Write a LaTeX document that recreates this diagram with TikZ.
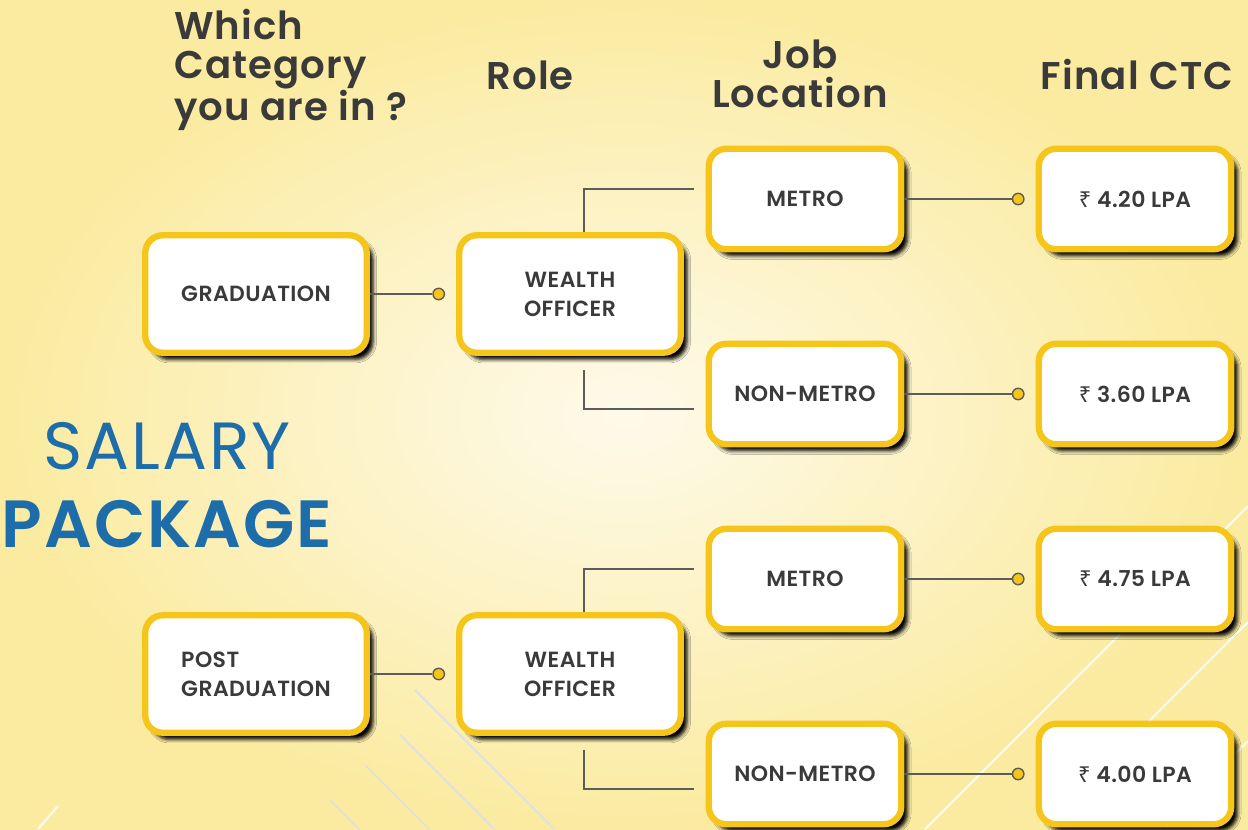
\documentclass[tikz,border=0pt]{standalone}
\usepackage{fontspec}
\setmainfont{Poppins}[BoldFont={Poppins SemiBold}]
\newfontfamily\rupeefont{Noto Sans}
\usepackage{tikz}
\usetikzlibrary{positioning}
\usetikzlibrary{calc}
\usetikzlibrary{shadows,shadows.blur}
\definecolor{boxyellow}{HTML}{F6C519}
\definecolor{textgray}{HTML}{3A3A3A}
\definecolor{linkgray}{HTML}{5C5C5C}
\definecolor{salblue}{HTML}{1D6DAB}
\definecolor{bgyellow}{HTML}{FBEBA0}
\definecolor{bglight}{HTML}{FEFAEA}
\newcommand{\inr}{{\rupeefont\bfseries ₹}}
\tikzstyle{basebox}=[rectangle,rounded corners=10pt,draw=boxyellow,line width=3.6pt,fill=white,text=textgray,
    blur shadow={shadow xshift=3.6pt,shadow yshift=-3.8pt,shadow blur radius=2pt,shadow blur extra rounding=2pt,shadow opacity=100}]
\tikzstyle{catbox}=[basebox,minimum width=4.43cm,minimum height=2.35cm,align=left,font=\bfseries\fontsize{12.5}{16.5}\selectfont\addfontfeatures{LetterSpace=2}]
\tikzstyle{rolebox}=[catbox,align=center]
\tikzstyle{locbox}=[basebox,minimum width=3.85cm,minimum height=2.01cm,align=center,font=\bfseries\fontsize{12.5}{16.5}\selectfont\addfontfeatures{LetterSpace=2}]
\tikzstyle{joint}=[circle,draw=linkgray,fill=boxyellow,line width=0.8pt,minimum size=6.5pt,inner sep=0pt]
\tikzstyle{link}=[draw=linkgray,line width=0.8pt]
\tikzstyle{header}=[text=textgray,font=\bfseries\fontsize{22}{22}\selectfont\addfontfeatures{LetterSpace=3}]
\tikzstyle{streak}=[line width=1.2pt]

\begin{document}
\begin{tikzpicture}[x=0.02cm,y=-0.02cm]
    % background and faint streaks
    \shade[inner color=bglight,outer color=bgyellow] (0,0) rectangle (1248,829);
    \useasboundingbox (0,0) rectangle (1248,829);
    \foreach \a/\b in {{(415,690)/(554,829)}, {(400,735)/(494,829)}, {(365,765)/(429,829)}, {(330,800)/(359,829)}}
        \draw[streak,draw=black!12] \a -- \b;
    \foreach \a/\b in {{(925,829)/(1248,506)}, {(1135,735)/(1248,622)}, {(1160,829)/(1248,741)}, {(38,829)/(58,806)}}
        \draw[streak,draw=white,opacity=0.8] \a -- \b;

    % headings
    \node[header,anchor=west,align=left] (cat) at (168,70) {Which\\Category\\you are in ?};
    \node[header] (role) at (530,75) {Role};
    \node[header,align=center] (loc) at (800,74) {Job\\Location};
    \node[header] (ctc) at (1137,75) {Final CTC};
    \node[text=salblue,align=center,font=\fontsize{38}{44}\selectfont\addfontfeatures{LetterSpace=3}] (sal) at (167,485) {SALARY\\{\bfseries PACKAGE}};

    % First we draw the boxes
    \foreach \pos/\name/\txt in {{(256,294)/grad/GRADUATION}, {(256,674)/pgrad/{POST\\GRADUATION}}}
        \node[catbox] (\name) at \pos {\txt};
    \foreach \pos/\name in {{(570,294)/wo1}, {(570,674)/wo2}}
        \node[rolebox] (\name) at \pos {WEALTH\\OFFICER};
    \foreach \pos/\name/\txt in {{(805,199)/met1/METRO}, {(805,394)/nmet1/NON-METRO}, {(805,579)/met2/METRO}, {(805,774)/nmet2/NON-METRO},
                                 {(1135,199)/ctc1/{\inr{} 4.20 LPA}}, {(1135,394)/ctc2/{\inr{} 3.60 LPA}},
                                 {(1135,579)/ctc3/{\inr{} 4.75 LPA}}, {(1135,774)/ctc4/{\inr{} 4.00 LPA}}}
        \node[locbox] (\name) at \pos {\txt};

    % Then the joints and the links
    \foreach \dest/\name in {wo1/j1, wo2/j2, ctc1/j3, ctc2/j4, ctc3/j5, ctc4/j6}
        \node[joint,left=0.22cm of \dest] (\name) {};
    \foreach \source/\name in {grad/j1, pgrad/j2, met1/j3, nmet1/j4, met2/j5, nmet2/j6}
        \path[link] (\source) -- (\name);
    \foreach \source/\up/\down in {wo1/met1/nmet1, wo2/met2/nmet2} {
        \coordinate (\up-in) at ($(\up.west)+(-12,-10)$);
        \coordinate (\down-in) at ($(\down.west)+(-12,15)$);
        \path[link] (\source.north) ++(14,0) |- (\up-in);
        \path[link] (\source.south) ++(14,14) |- (\down-in);
    }
\end{tikzpicture}
\end{document}
